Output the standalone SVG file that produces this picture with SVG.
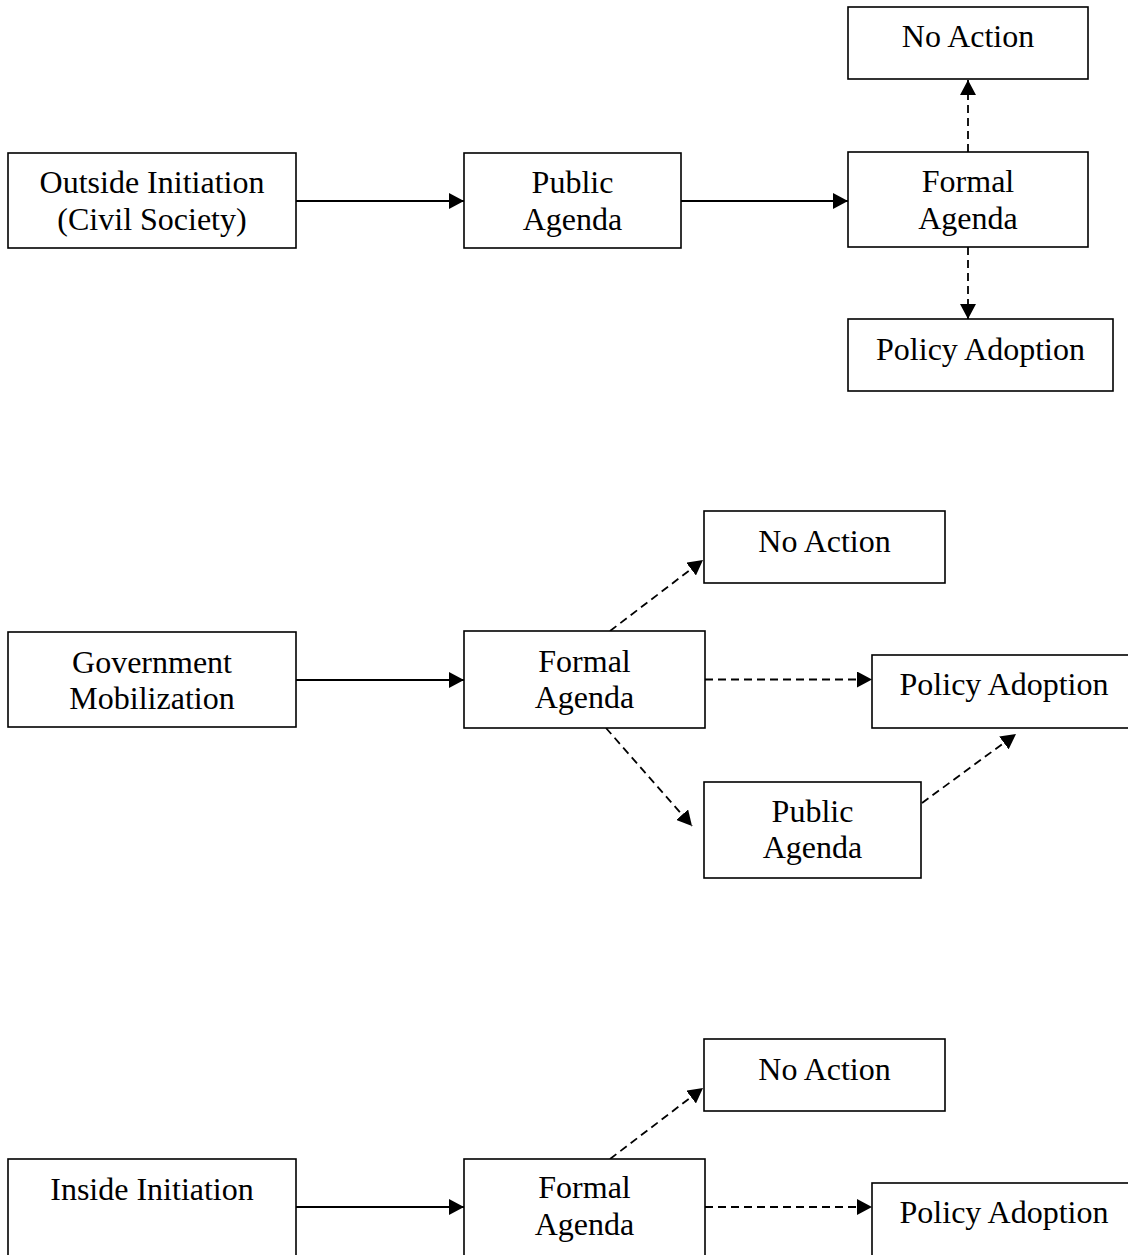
<svg xmlns="http://www.w3.org/2000/svg" width="1128" height="1255" viewBox="0 0 1128 1255">
<style>
rect.box{fill:#fff;stroke:#000;stroke-width:1.6}
text{font-family:"Liberation Serif","Times New Roman",serif;font-size:32px;fill:#000;text-anchor:middle}
.c line{stroke:#000;stroke-width:1.8;fill:none}
.c line.d{stroke-dasharray:8 5}
</style>
<defs>
<marker id="ah" markerUnits="userSpaceOnUse" markerWidth="16" markerHeight="16" refX="15" refY="8" orient="auto" viewBox="0 0 16 16">
<path d="M0,0 L15,8 L0,16 z" fill="#000"/>
</marker>
</defs>
<rect width="1128" height="1255" fill="#fff"/>
<g class="c" id="connectors">
<line x1="296" y1="201" x2="464" y2="201" marker-end="url(#ah)"/>
<line x1="681" y1="201" x2="848" y2="201" marker-end="url(#ah)"/>
<line class="d" x1="968" y1="152" x2="968" y2="80" marker-end="url(#ah)"/>
<line class="d" x1="968" y1="247" x2="968" y2="319" marker-end="url(#ah)"/>
<line x1="296" y1="680" x2="464" y2="680" marker-end="url(#ah)"/>
<line class="d" x1="610" y1="631" x2="703" y2="560" marker-end="url(#ah)"/>
<line class="d" x1="705" y1="679.5" x2="872" y2="679.5" marker-end="url(#ah)"/>
<line class="d" x1="606" y1="728" x2="692" y2="826" marker-end="url(#ah)"/>
<line class="d" x1="922" y1="803" x2="1016" y2="734" marker-end="url(#ah)"/>
<line x1="296" y1="1207" x2="464" y2="1207" marker-end="url(#ah)"/>
<line class="d" x1="610" y1="1159" x2="703" y2="1088" marker-end="url(#ah)"/>
<line class="d" x1="705" y1="1207" x2="872" y2="1207" marker-end="url(#ah)"/>
</g>
<g id="outside-initiation"><rect class="box" x="8" y="153" width="288" height="95"/><text x="152" y="193">Outside Initiation</text><text x="152" y="230">(Civil Society)</text></g>
<g id="public-agenda-1"><rect class="box" x="464" y="153" width="217" height="95"/><text x="572.5" y="193">Public</text><text x="572.5" y="230">Agenda</text></g>
<g id="formal-agenda-1"><rect class="box" x="848" y="152" width="240" height="95"/><text x="968" y="192">Formal</text><text x="968" y="228.5">Agenda</text></g>
<g id="no-action-1"><rect class="box" x="848" y="7" width="240" height="72"/><text x="968" y="47">No Action</text></g>
<g id="policy-adoption-1"><rect class="box" x="848" y="319" width="265" height="72"/><text x="980.5" y="360">Policy Adoption</text></g>
<g id="government-mobilization"><rect class="box" x="8" y="632" width="288" height="95"/><text x="152" y="672.7">Government</text><text x="152" y="709.3">Mobilization</text></g>
<g id="formal-agenda-2"><rect class="box" x="464" y="631" width="241" height="97"/><text x="584.5" y="671.7">Formal</text><text x="584.5" y="708.3">Agenda</text></g>
<g id="no-action-2"><rect class="box" x="704" y="511" width="241" height="72"/><text x="824.5" y="551.7">No Action</text></g>
<g id="policy-adoption-2"><rect class="box" x="872" y="655" width="264" height="73"/><text x="1004" y="695">Policy Adoption</text></g>
<g id="public-agenda-2"><rect class="box" x="704" y="782" width="217" height="96"/><text x="812.5" y="821.7">Public</text><text x="812.5" y="858">Agenda</text></g>
<g id="inside-initiation"><rect class="box" x="8" y="1159" width="288" height="97"/><text x="152" y="1200">Inside Initiation</text></g>
<g id="formal-agenda-3"><rect class="box" x="464" y="1159" width="241" height="97"/><text x="584.5" y="1198.3">Formal</text><text x="584.5" y="1235">Agenda</text></g>
<g id="no-action-3"><rect class="box" x="704" y="1039" width="241" height="72"/><text x="824.5" y="1080">No Action</text></g>
<g id="policy-adoption-3"><rect class="box" x="872" y="1183" width="264" height="73"/><text x="1004" y="1223">Policy Adoption</text></g>
</svg>
